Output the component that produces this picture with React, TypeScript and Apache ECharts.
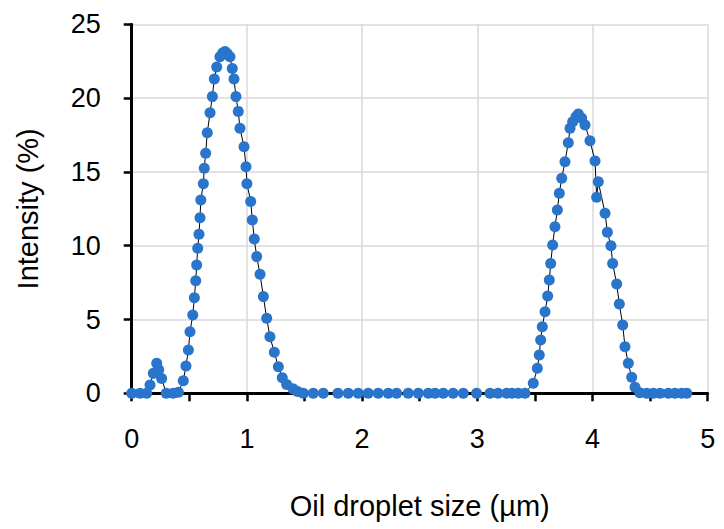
import React, { useEffect, useRef } from "react";
import * as echarts from "echarts";

// Oil droplet size (µm)
const sizes: number[] = [
  0, 0.072, 0.13, 0.159, 0.188, 0.217, 0.235, 0.26, 0.3, 0.36, 0.405,
  0.448, 0.471, 0.492, 0.506, 0.53, 0.544, 0.556, 0.564, 0.573, 0.584, 0.593,
  0.6, 0.622, 0.63, 0.642, 0.656, 0.68, 0.7, 0.717, 0.738, 0.766, 0.79, 0.81,
  0.83, 0.853, 0.873, 0.888, 0.905, 0.925, 0.94, 0.975, 0.992, 1.0, 1.033,
  1.047, 1.064, 1.085, 1.114, 1.143, 1.172, 1.2, 1.238, 1.273, 1.307, 1.345,
  1.4, 1.44, 1.49, 1.576, 1.663, 1.79, 1.88, 1.966, 2.053, 2.14, 2.227, 2.3,
  2.4, 2.488, 2.575, 2.633, 2.705, 2.79, 2.878, 2.994, 3.11, 3.18, 3.255,
  3.3, 3.356, 3.414, 3.486, 3.521, 3.538, 3.55, 3.564, 3.588, 3.611, 3.625,
  3.637, 3.654, 3.674, 3.695, 3.712, 3.733, 3.761, 3.79, 3.805, 3.828, 3.857,
  3.877, 3.906, 3.935, 3.978, 4.022, 4.036, 4.05, 4.109, 4.129, 4.16, 4.175,
  4.21, 4.233, 4.262, 4.282, 4.311, 4.34, 4.369, 4.41, 4.47, 4.528, 4.586,
  4.658, 4.716, 4.774, 4.818,
];

// Intensity (%)
const intensity: number[] = [
  0, 0, 0, 0.56, 1.35, 2.03, 1.6, 1.0, 0, 0, 0.07,
  0.85, 1.85, 2.93, 4.17, 5.3, 6.48, 7.63, 8.69, 9.82, 10.77, 11.9,
  13.1, 14.2, 15.24, 16.26, 17.65, 19.0, 20.1, 21.3, 22.1, 22.8, 23.05, 23.15,
  23.0, 22.8, 22.0, 21.3, 20.1, 19.1, 17.95, 16.7, 15.35, 14.2, 13.0,
  11.74, 10.45, 9.26, 8.06, 6.55, 5.08, 3.83, 2.78, 1.8, 1.06, 0.6,
  0.3, 0.12, 0, 0, 0, 0, 0, 0, 0, 0, 0, 0,
  0, 0, 0, 0, 0, 0, 0, 0, 0, 0, 0,
  0, 0, 0, 0.68, 1.69, 2.6, 3.61, 4.51, 5.53, 6.59, 7.68,
  8.8, 10.05, 11.29, 12.42, 13.55, 14.57, 15.69, 16.98, 17.95, 18.4, 18.74,
  18.92, 18.63, 18.18, 17.11, 15.74, 13.28, 14.34, 12.2, 10.91, 10.0, 8.8,
  7.4, 6.05, 4.63, 3.16, 2.03, 1.08, 0.41, 0.04, 0, 0, 0,
  0, 0, 0, 0,
];

const xTitle = "Oil droplet size (µm)";
const yTitle = "Intensity (%)";

const FONT = "Liberation Sans";

export default function App() {
  const ref = useRef<HTMLDivElement>(null);
  useEffect(() => {
    if (!ref.current) return;
    const chart = echarts.init(ref.current, null, { renderer: "svg" });
    const data = sizes.map((s, i) => [s, intensity[i]]);
    chart.setOption({
      animation: false,
      backgroundColor: "#ffffff",
      grid: { left: 131.7, right: 16.3, top: 24.3, bottom: 135.7 },
      xAxis: {
        type: "value",
        min: 0,
        max: 5,
        interval: 1,
        name: xTitle,
        nameLocation: "middle",
        nameGap: 98,
        nameTextStyle: { fontFamily: FONT, fontSize: 29, color: "#000" },
        axisLine: { show: true, lineStyle: { color: "#000", width: 3 } },
        axisTick: { show: true, inside: false, length: 8, lineStyle: { color: "#000", width: 2.5 } },
        minorTick: { show: true, splitNumber: 2, length: 8, lineStyle: { color: "#000", width: 2.5 } },
        axisLabel: { fontFamily: FONT, fontSize: 27, color: "#000", margin: 32 },
        splitLine: { show: true, lineStyle: { color: "#d9d9d9", width: 1.5 } },
      },
      yAxis: {
        type: "value",
        min: 0,
        max: 25,
        interval: 5,
        name: yTitle,
        nameLocation: "middle",
        nameRotate: 90,
        nameGap: 89,
        nameTextStyle: { fontFamily: FONT, fontSize: 29, color: "#000" },
        axisLine: { show: true, lineStyle: { color: "#000", width: 3 } },
        axisTick: { show: true, inside: false, length: 8, lineStyle: { color: "#000", width: 2.5 } },
        axisLabel: { fontFamily: FONT, fontSize: 27, color: "#000", margin: 31 },
        splitLine: { show: true, lineStyle: { color: "#d9d9d9", width: 1.5 } },
      },
      series: [
        {
          type: "line",
          data,
          symbol: "circle",
          symbolSize: 11,
          showAllSymbol: true,
          lineStyle: { color: "#000", width: 1 },
          itemStyle: { color: "#2A75CC" },
          z: 3,
        },
      ],
    });
    return () => chart.dispose();
  }, []);
  return <div ref={ref} style={{ width: 724, height: 529, marginLeft: -8, marginTop: -8 }} />;
}
